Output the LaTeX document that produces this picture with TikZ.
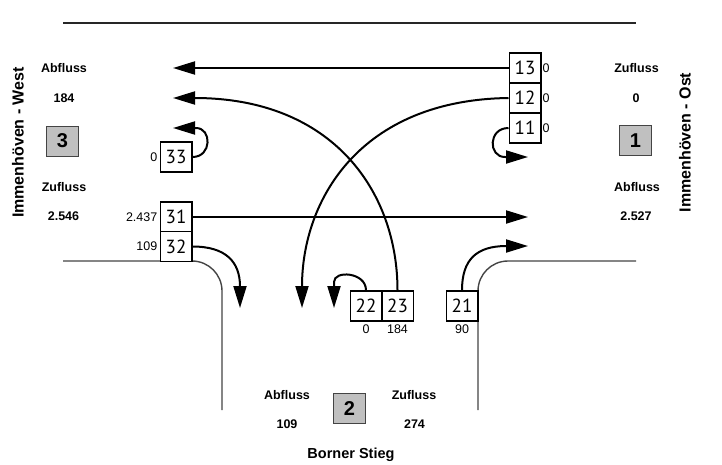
\documentclass[tikz,border=0pt]{standalone}
\usepackage{fontspec}
\setmainfont{Liberation Sans}
\newfontfamily\boxfont{PT Sans}
\usetikzlibrary{arrows.meta}
\definecolor{roadgray}{HTML}{444444}
\definecolor{zonegray}{HTML}{C0C0C0}
\tikzset{
  numbox/.style={draw=black, line width=1.5pt, fill=white, minimum width=31.5pt, minimum height=30pt, inner sep=0pt, font=\boxfont\fontsize{19}{21}\selectfont},
  zonebox/.style={draw=roadgray, line width=1pt, fill=zonegray, minimum width=32pt, minimum height=30pt, inner sep=0pt, font=\bfseries\fontsize{20}{22}\selectfont},
  lbl/.style={inner sep=0pt, font=\bfseries\fontsize{12.5}{14}\selectfont},
  ttl/.style={inner sep=0pt, rotate=90, font=\bfseries\fontsize{16}{18}\selectfont},
  small/.style={inner sep=0pt, font=\fontsize{12.5}{14}\selectfont},
  road/.style={draw=roadgray, line width=1.4pt, rounded corners=30pt},
  flow/.style={draw=black, line width=2pt, -{Triangle[length=22pt,width=13pt]}}
}
\begin{document}
\begin{tikzpicture}[x=1pt,y=-1pt]
\useasboundingbox (0,0) rectangle (722,464);
% top edge
\draw[line width=2.3pt, draw=black!85] (63,23) -- (636,23);
% roads
\draw[road] (63,261) -- (222,261) -- (222,410);
\draw[road] (478,410) -- (478,261) -- (636,261);

% lane boxes
\node[numbox] (b13) at (525,68) {13};
\node[numbox] (b12) at (525,98) {12};
\node[numbox] (b11) at (525,128) {11};
\node[numbox] (b33) at (176,157) {33};
\node[numbox] (b31) at (176,217) {31};
\node[numbox] (b32) at (176,246.5) {32};
\node[numbox] (b22) at (366,306) {22};
\node[numbox] (b23) at (397.5,306) {23};
\node[numbox] (b21) at (462,306) {21};

% lane values
\node[small, anchor=west] (v13) at (542.5,68) {0};
\node[small, anchor=west] (v12) at (542.5,98) {0};
\node[small, anchor=west] (v11) at (542.5,128) {0};
\node[small, anchor=east] (v33) at (157.5,157) {0};
\node[small, anchor=east] (v31) at (157.5,217) {2.437};
\node[small, anchor=east] (v32) at (157.5,246.5) {109};
\node[small] (v22) at (366,329) {0};
\node[small] (v23) at (397.5,329) {184};
\node[small] (v21) at (462,329) {90};

% arrow end points
\coordinate (t13) at (173,68);
\coordinate (t23) at (173,98);
\coordinate (t33) at (173,128);
\coordinate (t12) at (302,308);
\coordinate (t11) at (528,157);
\coordinate (t31) at (528,217);
\coordinate (t21) at (528,246);
\coordinate (t32) at (240,308);
\coordinate (t22) at (334,308);

% flows
\draw[flow] (b13.west) -- (t13);
\draw[flow] (b12.west) .. controls (360,100) and (302,200) .. (t12);
\draw[flow] (b23.north) .. controls (397.5,193) and (334,98) .. (t23);
\draw[flow] (b33.east) .. controls (212,157) and (212,128) .. (196,128) -- (t33);
\draw[flow] (b11.west) .. controls (488,128) and (488,157) .. (505,157) -- (t11);
\draw[flow] (b31.east) -- (t31);
\draw[flow] (b32.east) .. controls (226,246.5) and (240,262) .. (t32);
\draw[flow] (b21.north) .. controls (462,260) and (476,246) .. (t21);
\draw[flow] (b22.north) .. controls (366,272) and (334,270) .. (334,282) -- (t22);

% zone West
\node[ttl] (tw) at (18,142.5) {Immenhöven - West};
\node[lbl] (aw) at (64,68) {Abfluss};
\node[lbl] (awv) at (64,98) {184};
\node[zonebox] (z3) at (62.5,141) {3};
\node[lbl] (zw) at (64,187) {Zufluss};
\node[lbl] (zwv) at (63.5,216) {2.546};

% zone Ost
\node[ttl] (to) at (685,142.5) {Immenhöven - Ost};
\node[lbl] (zo) at (636.5,68) {Zufluss};
\node[lbl] (zov) at (636,98) {0};
\node[zonebox] (z1) at (635.5,140.5) {1};
\node[lbl] (ao) at (637,187) {Abfluss};
\node[lbl] (aov) at (636,216) {2.527};

% zone South
\node[lbl] (as) at (287,395) {Abfluss};
\node[lbl] (asv) at (287,424) {109};
\node[zonebox] (z2) at (349.5,408.5) {2};
\node[lbl] (zs) at (414,395) {Zufluss};
\node[lbl] (zsv) at (414.5,424) {274};
\node[inner sep=0pt, font=\bfseries\fontsize{14.5}{16}\selectfont] (ts) at (351,455) {Borner Stieg};
\end{tikzpicture}
\end{document}
